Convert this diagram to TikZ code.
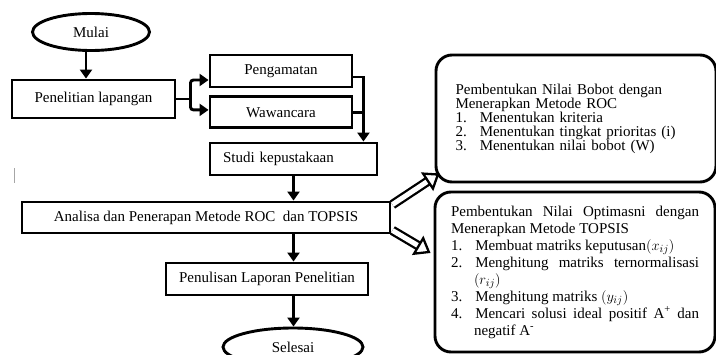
\documentclass[tikz,border=0pt]{standalone}
\usepackage{fontspec}
\setmainfont{Liberation Serif}
\usepackage{enumitem}
\usetikzlibrary{arrows.meta,shapes.geometric,positioning}
\hyphenpenalty=10000
\tikzset{box/.style={draw, line width=2.9pt, rectangle, inner sep=0pt, font=\fontsize{15}{17}\selectfont},
  term/.style={draw, line width=2.9pt, ellipse, inner sep=0pt, font=\fontsize{15}{17}\selectfont},
  info/.style={draw, line width=2.9pt, rounded corners=16pt, inner sep=0pt},
  flow/.style={line width=2.9pt, -{Triangle[length=9pt,width=12pt]}},
  link/.style={line width=2.9pt},
  hollow/.style={double, line width=2.3pt, double distance=5pt, -{Triangle[open,fill=white,length=15pt,width=22pt,line width=2.3pt]}}}
\setlist[enumerate]{leftmargin=23pt, labelwidth=10pt, labelsep=13pt, align=left, topsep=0pt, itemsep=0pt, parsep=0pt, partopsep=0pt}

\begin{document}
\begin{tikzpicture}[x=1pt,y=-1pt]
    \useasboundingbox (0,0) rectangle (716,354);
    \node[term, minimum width=117pt, minimum height=37pt] (mulai) at (91,32) {Mulai};
    \node[box, minimum width=163pt, minimum height=38pt] (lap) at (93.5,99) {Penelitian lapangan};
    \node[box, minimum width=142pt, minimum height=32pt] (amat) at (281,71) {Pengamatan};
    \node[box, minimum width=142pt, minimum height=31pt, below=7pt of amat] (wawan) {Wawancara};
    \node[box, minimum width=167pt, minimum height=32pt, text width=141pt, inner xsep=13pt, align=left] (studi) at (293.5,159) {Studi kepustakaan};
    \node[box, minimum width=368pt, minimum height=31pt] (ana) at (206,217.5) {Analisa dan Penerapan Metode ROC \ dan TOPSIS};
    \node[box, minimum width=202pt, minimum height=32pt] (lapor) at (267,279) {Penulisan Laporan Penelitian};
    \node[term, minimum width=140pt, minimum height=38pt] (selesai) at (293,347) {Selesai};
    \node[info, minimum width=280pt, minimum height=127pt, text width=241pt, align=left, font=\fontsize{15}{14}\selectfont] (roc) at (576,118.5) {Pembentukan Nilai Bobot dengan Menerapkan Metode ROC
      \begin{enumerate}
        \item Menentukan kriteria
        \item Menentukan tingkat prioritas (i)
        \item Menentukan nilai bobot (W)
      \end{enumerate}
      \vspace{-8pt}};
    \node[info, minimum width=280pt, minimum height=160pt, text width=248pt, align=justify, font=\fontsize{15}{17}\selectfont] (topsis) at (575,272) {Pembentukan Nilai Optimasni dengan Menerapkan Metode TOPSIS
      \begin{enumerate}
        \item Membuat matriks keputusan$\bigl(x_{ij}\bigr)$
        \item Menghitung matriks ternormalisasi $\bigl(r_{ij}\bigr)$
        \item Menghitung matriks $\bigl(y_{ij}\bigr)$
        \item Mencari solusi ideal positif A\textsuperscript{+} dan negatif A\textsuperscript{-}
      \end{enumerate}};
    \coordinate (join) at ([xshift=-15pt]studi.north east);
    \draw[flow] ([xshift=-5pt]mulai.south) -- ([xshift=-5pt]mulai.south |- lap.north);
    \draw[link] (lap.east) -- ++(14,0) coordinate (fork);
    \draw[flow, rounded corners=3pt] (fork) |- ([yshift=-9pt]amat.west);
    \draw[flow, rounded corners=3pt] (fork) |- ([yshift=2.5pt]wawan.west);
    \draw[flow] ([yshift=-6pt]amat.east) -| (join);
    \draw[link] (wawan.east) -- (wawan.east -| join);
    \draw[flow] (studi.south) -- (studi.south |- ana.north);
    \draw[flow] (studi.south |- ana.south) -- (studi.south |- lapor.north);
    \draw[flow] (studi.south |- lapor.south) -- (studi.south |- selesai.north);
    \draw[hollow] ([shift={(1pt,-4pt)}]ana.north east) -- ([shift={(5pt,10pt)}]roc.south west);
    \draw[hollow] ([shift={(1pt,4pt)}]ana.south east) -- ([shift={(-3pt,19pt)}]topsis.west);
    \draw[gray!70, line width=1pt] (14,168) -- (14,183);
\end{tikzpicture}
\end{document}
